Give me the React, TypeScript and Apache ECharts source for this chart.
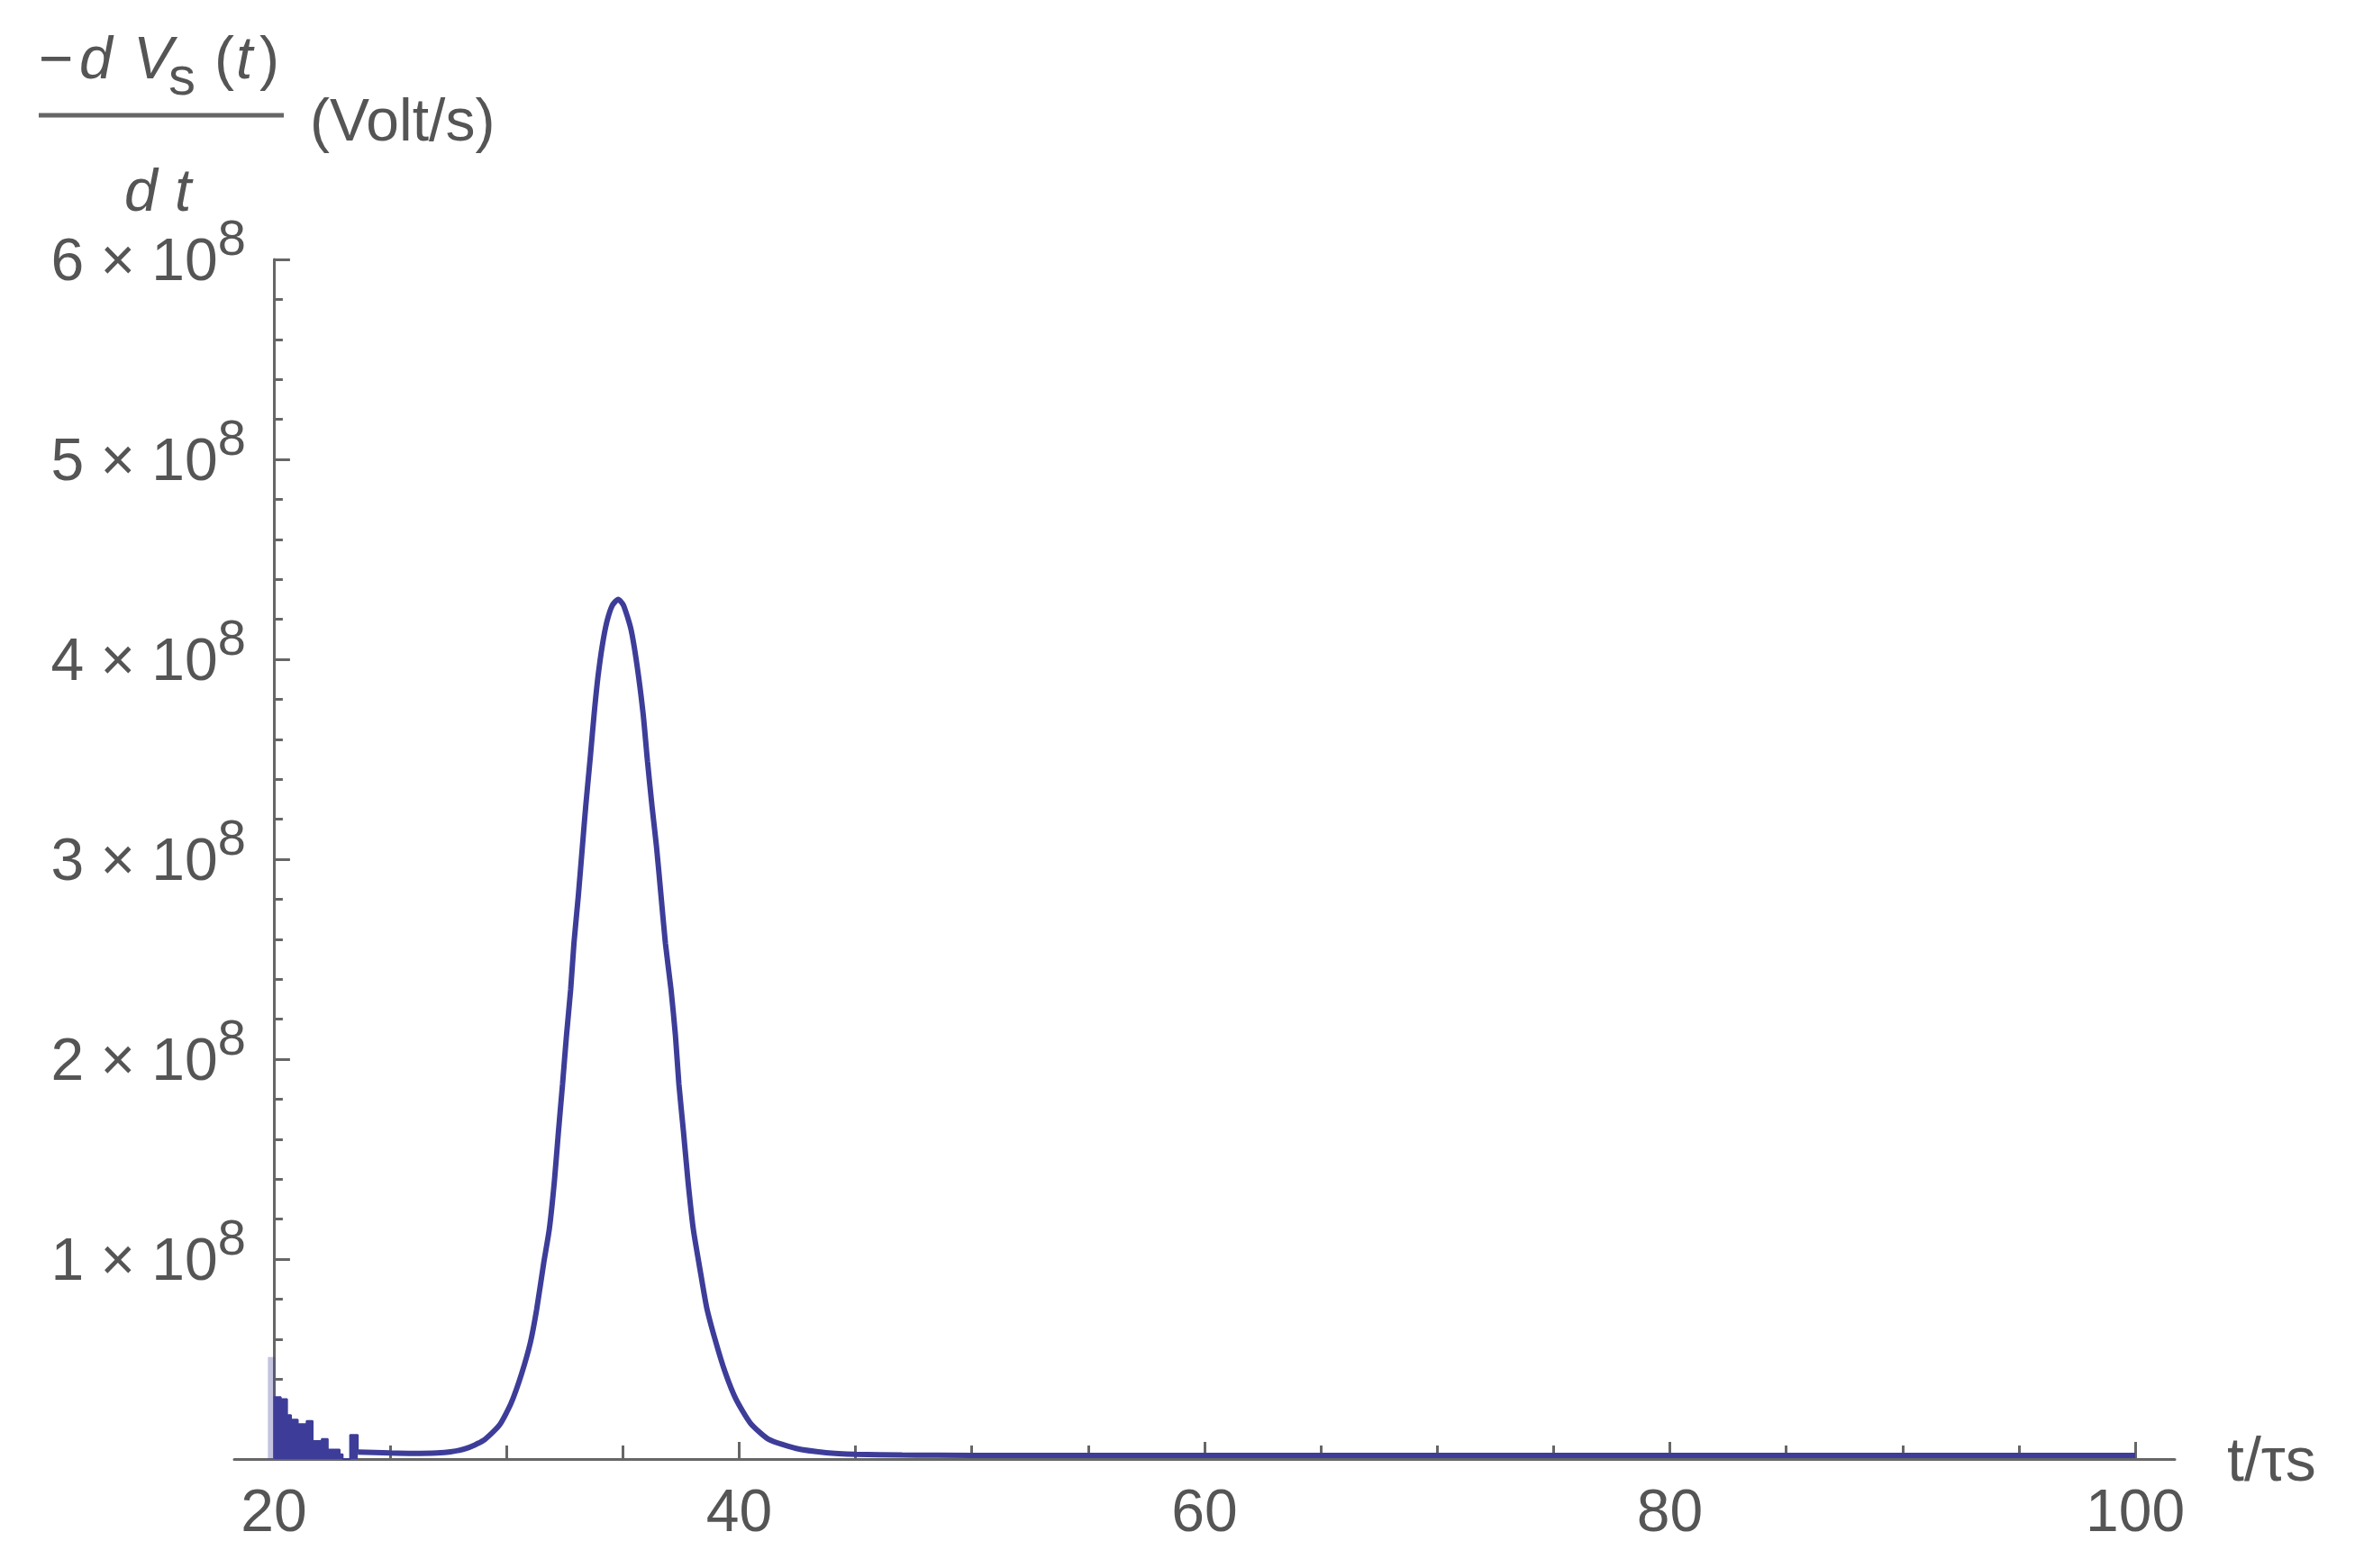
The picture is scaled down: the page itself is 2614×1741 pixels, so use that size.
import React, { useEffect, useRef } from 'react';
import * as echarts from 'echarts';

// ---------- data (t in units of tau_s, value in units of 1e8 Volt/s) ----------
const V_UNIT = 1e8;

// numerical-noise blocks near the start (value holds from t until the next t)
const noiseT = [20.0, 20.3, 20.57, 20.74, 21.03, 21.41, 21.67, 22.06, 22.32, 22.83, 22.96, 23.28, 23.61];
const noiseV = [0.31, 0.30, 0.22, 0.197, 0.175, 0.19, 0.09, 0.10, 0.047, 0.024, 0.0, 0.12, 0.035];

// thin faint spike at the very start
const spikeT = [19.9, 19.9];
const spikeV = [0.0, 0.51];

// main pulse
const pulseT = [
  23.61, 25.0, 26.0, 27.0, 27.6, 28.25, 29.0, 29.7, 30.2, 30.64, 31.03, 31.3, 31.6, 31.84,
  32.06, 32.23, 32.41, 32.58, 32.76, 32.9, 33.09, 33.26, 33.41, 33.61, 33.77, 33.93, 34.12,
  34.32, 34.55, 34.8, 35.03, 35.35, 35.61, 35.87, 36.06, 36.25, 36.45, 36.64, 36.83, 37.07,
  37.26, 37.41, 37.61, 37.8, 38.03, 38.3, 38.6, 38.96, 39.38, 39.86, 40.48, 41.25, 42.45,
  43.74, 45.03, 47.0, 50.0, 60.0, 70.0, 80.0, 90.0, 100.0,
];
const pulseV = [
  0.035, 0.03, 0.028, 0.03, 0.036, 0.052, 0.092, 0.17, 0.28, 0.423, 0.584, 0.75, 0.98, 1.149,
  1.391, 1.633, 1.875, 2.12, 2.35, 2.58, 2.82, 3.06, 3.27, 3.52, 3.73, 3.91, 4.07,
  4.19, 4.27, 4.3, 4.27, 4.15, 3.97, 3.73, 3.49, 3.27, 3.06, 2.82, 2.58, 2.35,
  2.12, 1.875, 1.633, 1.391, 1.149, 0.96, 0.76, 0.6, 0.44, 0.3, 0.18, 0.1, 0.053,
  0.032, 0.024, 0.02, 0.018, 0.018, 0.018, 0.018, 0.018, 0.018,
];

// axes
const X_MIN = 18.3;
const X_MAX = 101.7;
const Y_AXIS_AT = 20;
const xMajorTicks = [20, 40, 60, 80, 100];
const xMinorTicks = [25, 30, 35, 45, 50, 55, 65, 70, 75, 85, 90, 95];
const Y_MIN = 0;
const Y_MAX = 6e8;
const Y_STEP = 1e8;
const Y_EXP = 8;

// ---------- styles / layout ----------
const W = 2614;
const H = 1741;
const FONT = '"Liberation Sans", Arial, sans-serif';
const LINE_COLOR = '#3d3d99';
const AXIS_COLOR = '#666666';
const TEXT_COLOR = '#555555';
const GRID_LEFT = 260;
const GRID_RIGHT_EDGE = 2414;
const GRID_TOP = 288;
const GRID_BOTTOM_EDGE = 1620;

const zip = (xs: number[], ys: number[]) => xs.map((x, i) => [x, ys[i] * V_UNIT]);

export default function App() {
  const ref = useRef<HTMLDivElement>(null);

  useEffect(() => {
    if (!ref.current) return;
    const chart = echarts.init(ref.current, undefined, { renderer: 'svg' });
    const gridWidth = GRID_RIGHT_EDGE - GRID_LEFT;
    const yAxisShift = ((Y_AXIS_AT - X_MIN) / (X_MAX - X_MIN)) * gridWidth;

    const txt = (text: string, x: number, y: number, size: number, italic = false) => ({
      type: 'text',
      x,
      y,
      style: {
        text,
        fill: TEXT_COLOR,
        fontSize: size,
        fontFamily: FONT,
        fontStyle: italic ? 'italic' : 'normal',
        align: 'left',
        verticalAlign: 'middle',
      },
    });

    chart.setOption({
      animation: false,
      backgroundColor: '#ffffff',
      grid: {
        left: GRID_LEFT,
        right: W - GRID_RIGHT_EDGE,
        top: GRID_TOP,
        bottom: H - GRID_BOTTOM_EDGE,
        containLabel: false,
        outerBoundsMode: 'none',
      },
      xAxis: [
        {
          type: 'value',
          min: X_MIN,
          max: X_MAX,
          position: 'bottom',
          splitLine: { show: false },
          axisLine: { show: true, lineStyle: { color: AXIS_COLOR, width: 3 } },
          axisTick: {
            show: true,
            inside: true,
            length: 19,
            customValues: xMajorTicks,
            lineStyle: { color: AXIS_COLOR, width: 3 },
          },
          axisLabel: {
            show: true,
            customValues: xMajorTicks,
            margin: 24,
            fontSize: 66,
            fontFamily: FONT,
            color: TEXT_COLOR,
            formatter: (v: number) => String(Math.round(v)),
          },
          name: 't/τs',
          nameLocation: 'end',
          nameGap: 58,
          nameTextStyle: { fontSize: 68, fontFamily: FONT, color: TEXT_COLOR, verticalAlign: 'middle' },
        },
        {
          type: 'value',
          min: X_MIN,
          max: X_MAX,
          position: 'bottom',
          splitLine: { show: false },
          axisLine: { show: false },
          axisLabel: { show: false },
          axisTick: {
            show: true,
            inside: true,
            length: 15,
            customValues: xMinorTicks,
            lineStyle: { color: AXIS_COLOR, width: 3 },
          },
        },
      ],
      yAxis: {
        type: 'value',
        min: Y_MIN,
        max: Y_MAX,
        interval: Y_STEP,
        position: 'left',
        offset: -yAxisShift,
        splitLine: { show: false },
        axisLine: { show: true, onZero: false, lineStyle: { color: AXIS_COLOR, width: 3 } },
        axisTick: { show: true, inside: true, length: 18, lineStyle: { color: AXIS_COLOR, width: 3 } },
        minorTick: { show: true, splitNumber: 5, length: 10, lineStyle: { color: AXIS_COLOR, width: 3 } },
        axisLabel: {
          margin: 31,
          formatter: (v: number) => {
            if (v === 0) return '';
            const m = Math.round(v / Math.pow(10, Y_EXP));
            return `{b|${m} × 10}{s|${Y_EXP}}`;
          },
          rich: {
            b: { fontSize: 66, lineHeight: 66, fontFamily: FONT, color: TEXT_COLOR, verticalAlign: 'bottom' },
            s: {
              fontSize: 56,
              lineHeight: 56,
              fontFamily: FONT,
              color: TEXT_COLOR,
              verticalAlign: 'bottom',
              padding: [0, 0, 30, 0],
            },
          },
        },
      },
      graphic: [
        txt('−', 43, 64, 66),
        txt('d', 88, 64, 66, true),
        txt('V', 148, 64, 66, true),
        txt('s', 187, 84, 60),
        txt('(', 238, 64, 66),
        txt('t', 262, 64, 66, true),
        txt(')', 288, 64, 66),
        {
          type: 'line',
          shape: { x1: 43, y1: 128, x2: 315, y2: 128 },
          style: { stroke: AXIS_COLOR, lineWidth: 5 },
        },
        txt('d', 138, 211, 66, true),
        txt('t', 194, 211, 66, true),
        txt('(Volt/s)', 344, 133, 66),
      ],
      series: [
        {
          type: 'line',
          data: zip(spikeT, spikeV),
          symbol: 'none',
          lineStyle: { color: LINE_COLOR, width: 8, opacity: 0.3 },
          z: 1,
        },
        {
          type: 'line',
          data: zip(noiseT, noiseV),
          symbol: 'none',
          step: 'end',
          lineStyle: { color: LINE_COLOR, width: 2 },
          areaStyle: { color: LINE_COLOR, opacity: 1 },
        },
        {
          type: 'line',
          data: zip(pulseT, pulseV),
          symbol: 'none',
          smooth: 0.2,
          lineStyle: { color: LINE_COLOR, width: 6 },
        },
      ],
    } as any);

    return () => chart.dispose();
  }, []);

  return (
    <div
      ref={ref}
      style={{ position: 'fixed', left: 0, top: 0, width: W, height: H, background: '#ffffff' }}
    />
  );
}
